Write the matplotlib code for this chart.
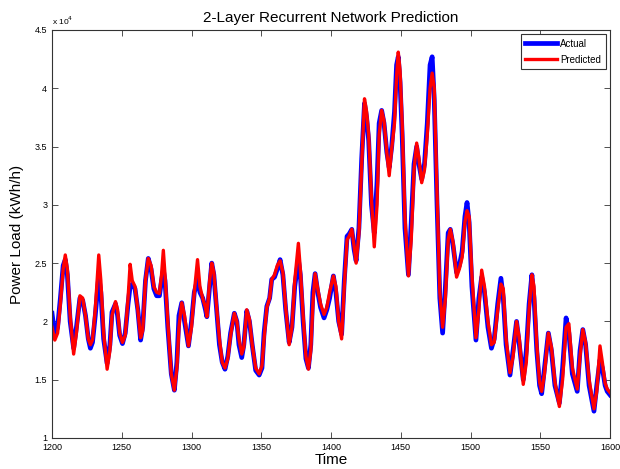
import numpy as np
import matplotlib
matplotlib.use("Agg")
import matplotlib.pyplot as plt
from matplotlib.ticker import FuncFormatter

plt.rcParams["font.family"] = ["Liberation Sans", "DejaVu Sans"]

# time stamps (peaks, troughs and a few points between)
time = [
    1200, 1202, 1204, 1206, 1208, 1209.5, 1211, 1213, 1215.5, 1217.5,
    1220, 1222, 1224, 1226, 1227.5, 1229, 1231, 1233.5, 1235, 1237,
    1239.5, 1241.5, 1243, 1245.5, 1247, 1248.5, 1250.5, 1252.5, 1254.5, 1256,
    1257.5, 1259.5, 1261.5, 1263.5, 1265, 1267, 1269, 1271, 1273, 1275,
    1277, 1278.5, 1279.8, 1281, 1283, 1285.5, 1287.7, 1289.5, 1291, 1293,
    1295, 1297.8, 1300, 1302, 1304.3, 1306, 1308, 1310, 1311, 1313,
    1314.5, 1316, 1318, 1320, 1322, 1324, 1326, 1328, 1330.7, 1332.5,
    1334, 1336, 1337.5, 1339.6, 1341.5, 1343.5, 1346, 1348.5, 1350.5, 1352,
    1354, 1356, 1357.5, 1359.5, 1361.5, 1363.5, 1365.5, 1367.5, 1370, 1372,
    1374, 1376.6, 1378, 1380, 1382, 1383.8, 1385.5, 1387, 1388.6, 1390.5,
    1392.5, 1395, 1397, 1399, 1401.7, 1403.5, 1405.5, 1407.6, 1409.5, 1411.5,
    1413, 1414.9, 1416.5, 1418, 1420, 1422, 1424, 1425.5, 1427, 1429,
    1431, 1433, 1434.5, 1436.3, 1438, 1440, 1441.7, 1443.5, 1445.5, 1447,
    1448.2, 1449.5, 1451, 1453, 1455.5, 1457.5, 1459.5, 1461.4, 1463, 1465,
    1467, 1469, 1471, 1472.5, 1474, 1476, 1478, 1480, 1482, 1484,
    1485.5, 1487.5, 1490, 1492, 1494, 1496, 1497.5, 1499, 1501, 1503.9,
    1506, 1508, 1510, 1512.5, 1515, 1517, 1519.5, 1521.8, 1523.5, 1525.5,
    1528.3, 1530.5, 1533, 1535, 1537.8, 1540, 1542, 1544, 1545.5, 1547.5,
    1549.5, 1551, 1553, 1555.8, 1558, 1560.5, 1563.7, 1566, 1568.5, 1570.5,
    1573, 1576.5, 1578.5, 1580.5, 1582.5, 1585, 1588.5, 1590.5, 1592.8, 1594.5,
    1596.5, 1598, 1600,
]

# load in units of 1e4 kWh/h
actual = [
    2.07, 1.88, 1.95, 2.20, 2.48, 2.53, 2.40, 2.00, 1.77, 1.95,
    2.20, 2.18, 2.05, 1.85, 1.77, 1.82, 2.05, 2.39, 2.25, 1.85,
    1.64, 1.80, 2.08, 2.15, 2.05, 1.88, 1.81, 1.90, 2.15, 2.30,
    2.32, 2.28, 2.10, 1.84, 1.95, 2.35, 2.54, 2.45, 2.28, 2.22,
    2.22, 2.35, 2.44, 2.35, 1.95, 1.55, 1.41, 1.65, 2.05, 2.16,
    2.00, 1.79, 2.00, 2.25, 2.36, 2.25, 2.20, 2.10, 2.04, 2.30,
    2.50, 2.40, 2.10, 1.80, 1.65, 1.59, 1.70, 1.90, 2.07, 2.00,
    1.80, 1.69, 1.80, 2.09, 2.00, 1.80, 1.58, 1.54, 1.60, 1.90,
    2.13, 2.20, 2.36, 2.38, 2.45, 2.53, 2.40, 2.10, 1.82, 1.95,
    2.30, 2.53, 2.40, 2.00, 1.68, 1.60, 1.80, 2.25, 2.41, 2.25,
    2.12, 2.03, 2.10, 2.20, 2.39, 2.25, 2.00, 1.89, 2.35, 2.73,
    2.75, 2.79, 2.62, 2.52, 2.80, 3.40, 3.87, 3.75, 3.55, 3.00,
    2.76, 3.20, 3.70, 3.81, 3.70, 3.45, 3.32, 3.50, 3.80, 4.20,
    4.27, 4.05, 3.60, 2.80, 2.40, 2.85, 3.35, 3.50, 3.35, 3.22,
    3.35, 3.70, 4.20, 4.27, 3.90, 3.00, 2.20, 1.90, 2.30, 2.76,
    2.79, 2.65, 2.42, 2.48, 2.60, 2.90, 3.02, 2.85, 2.30, 1.84,
    2.20, 2.38, 2.25, 1.95, 1.77, 1.85, 2.15, 2.37, 2.20, 1.80,
    1.54, 1.75, 2.00, 1.80, 1.50, 1.75, 2.15, 2.40, 2.20, 1.75,
    1.45, 1.38, 1.60, 1.90, 1.75, 1.45, 1.30, 1.60, 2.03, 1.90,
    1.55, 1.40, 1.75, 1.93, 1.80, 1.45, 1.23, 1.45, 1.67, 1.60,
    1.45, 1.40, 1.37,
]

predicted = [
    1.95, 1.84, 1.90, 2.15, 2.45, 2.57, 2.45, 2.05, 1.72, 1.90,
    2.22, 2.20, 2.05, 1.85, 1.80, 1.84, 2.10, 2.57, 2.35, 1.90,
    1.59, 1.75, 2.05, 2.17, 2.10, 1.90, 1.82, 1.88, 2.20, 2.49,
    2.35, 2.30, 2.10, 1.86, 1.92, 2.35, 2.54, 2.48, 2.30, 2.25,
    2.24, 2.40, 2.61, 2.40, 2.00, 1.55, 1.41, 1.60, 1.95, 2.16,
    2.05, 1.79, 1.95, 2.25, 2.53, 2.30, 2.20, 2.12, 2.04, 2.35,
    2.50, 2.42, 2.12, 1.85, 1.65, 1.60, 1.68, 1.88, 2.07, 2.00,
    1.85, 1.72, 1.78, 2.10, 2.02, 1.80, 1.60, 1.55, 1.62, 1.85,
    2.12, 2.20, 2.36, 2.40, 2.48, 2.52, 2.42, 2.12, 1.80, 1.95,
    2.35, 2.67, 2.45, 2.05, 1.70, 1.59, 1.75, 2.15, 2.41, 2.28,
    2.15, 2.06, 2.12, 2.25, 2.39, 2.30, 2.00, 1.85, 2.30, 2.70,
    2.73, 2.79, 2.65, 2.50, 2.75, 3.35, 3.91, 3.80, 3.60, 3.05,
    2.64, 3.00, 3.60, 3.81, 3.72, 3.45, 3.25, 3.48, 3.70, 4.10,
    4.31, 4.15, 3.70, 2.90, 2.39, 2.70, 3.30, 3.53, 3.40, 3.19,
    3.30, 3.60, 4.00, 4.13, 4.00, 3.10, 2.25, 1.95, 2.20, 2.70,
    2.79, 2.68, 2.38, 2.45, 2.55, 2.85, 2.95, 2.90, 2.40, 1.86,
    2.10, 2.44, 2.30, 2.00, 1.80, 1.82, 2.10, 2.32, 2.28, 1.85,
    1.56, 1.70, 2.00, 1.85, 1.46, 1.65, 2.10, 2.40, 2.30, 1.80,
    1.48, 1.40, 1.55, 1.90, 1.78, 1.48, 1.27, 1.50, 1.95, 1.98,
    1.60, 1.42, 1.70, 1.93, 1.82, 1.50, 1.25, 1.40, 1.79, 1.65,
    1.47, 1.42, 1.39,
]

SCALE = 1e4

fig = plt.figure(figsize=(6.2, 4.69), dpi=100)
ax = fig.add_axes([0.0839, 0.0661, 0.9, 0.87])

t = np.array(time)
ax.plot(t, np.array(actual) * SCALE, color="#0000ff", lw=3.4, label="Actual")
ax.plot(t, np.array(predicted) * SCALE, color="#ff0000", lw=2.4, label="Predicted")

ax.set_xlim(1200, 1600)
ax.set_ylim(1e4, 4.5e4)
ax.set_xticks(np.arange(1200, 1601, 50))
ax.set_yticks(np.arange(1e4, 4.51e4, 0.5e4))
ax.yaxis.set_major_formatter(FuncFormatter(lambda v, p: f"{v / SCALE:g}"))
ax.tick_params(direction="in", top=True, right=True, labelsize=6.5,
               length=4, width=0.6, color="#333333")
for s in ax.spines.values():
    s.set_linewidth(0.8)
    s.set_color("#333333")

ax.text(0.0, 1.008, r"x 10$^4$", transform=ax.transAxes, fontsize=6,
        ha="left", va="bottom")
ax.set_title("2-Layer Recurrent Network Prediction", fontsize=11, pad=6)
ax.set_xlabel("Time", fontsize=11, labelpad=1)
ax.set_ylabel("Power Load (kWh/h)", fontsize=11, labelpad=8)

leg = ax.legend(loc="upper right", fontsize=7, fancybox=False, framealpha=1,
                edgecolor="#333333", handlelength=3.2, borderpad=0.5,
                labelspacing=0.6, handletextpad=0.4, borderaxespad=0.4)
leg.get_frame().set_linewidth(0.8)

fig.savefig("out.png", dpi=100)
